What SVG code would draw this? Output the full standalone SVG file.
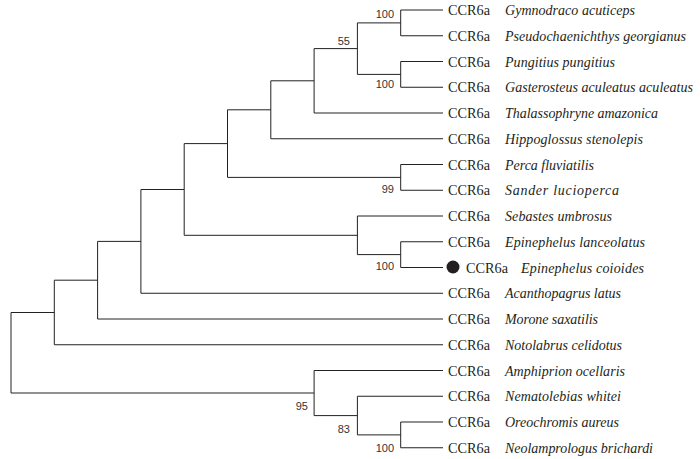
<svg xmlns="http://www.w3.org/2000/svg" width="700" height="459" viewBox="0 0 700 459">
<style>
.br{fill:none;stroke:#222;stroke-width:1}
.g{font-family:'Liberation Serif','Times New Roman',serif;font-size:14px;fill:#231f20}
.sp{font-family:'Liberation Serif','Times New Roman',serif;font-size:14px;font-style:italic;fill:#231f20}
.bs{font-family:'Liberation Sans',Arial,sans-serif;font-size:11px;fill:#333;text-anchor:end}
</style>
<rect width="700" height="459" fill="#fff"/>
<g id="connectors" class="br">
<path d="M54.3 312.5H11V393H314.1"/>
<path d="M97.6 280.2H54.3V344.75H443"/>
<path d="M140.9 241.4H97.6V319H443"/>
<path d="M184.2 189.5H140.9V293.25H443"/>
<path d="M227.5 143.6H184.2V235.3H357.4"/>
<path d="M443 216H357.4V254.6H400.7"/>
<path d="M443 241.75H400.7V267.5H443"/>
<path d="M270.8 109.8H227.5V177.4H400.7"/>
<path d="M443 164.5H400.7V190.25H443"/>
<path d="M314.1 80.8H270.8V138.75H443"/>
<path d="M357.4 48.6H314.1V113H443"/>
<path d="M400.7 22.9H357.4V74.4H400.7"/>
<path d="M443 10H400.7V35.75H443"/>
<path d="M443 61.5H400.7V87.25H443"/>
<path d="M443 370.5H314.1V415.6H357.4"/>
<path d="M443 396.25H357.4V434.9H400.7"/>
<path d="M443 422H400.7V447.75H443"/>
</g>
<g id="bootstrap">
<text class="bs" x="394" y="18">100</text>
<text class="bs" x="350" y="45">55</text>
<text class="bs" x="394" y="88">100</text>
<text class="bs" x="394" y="193">99</text>
<text class="bs" x="394" y="270">100</text>
<text class="bs" x="308" y="410">95</text>
<text class="bs" x="350" y="433">83</text>
<text class="bs" x="394" y="452">100</text>
</g>
<g id="leaf1"><text class="g" x="448" y="15" textLength="42" lengthAdjust="spacingAndGlyphs">CCR6a</text><text class="sp" x="505" y="15" textLength="130" lengthAdjust="spacing">Gymnodraco acuticeps</text></g>
<g id="leaf2"><text class="g" x="448" y="40.75" textLength="42" lengthAdjust="spacingAndGlyphs">CCR6a</text><text class="sp" x="505" y="40.75" textLength="181" lengthAdjust="spacing">Pseudochaenichthys georgianus</text></g>
<g id="leaf3"><text class="g" x="448" y="66.5" textLength="42" lengthAdjust="spacingAndGlyphs">CCR6a</text><text class="sp" x="505" y="66.5" textLength="110" lengthAdjust="spacing">Pungitius pungitius</text></g>
<g id="leaf4"><text class="g" x="448" y="92.25" textLength="42" lengthAdjust="spacingAndGlyphs">CCR6a</text><text class="sp" x="505" y="92.25" textLength="188" lengthAdjust="spacing">Gasterosteus aculeatus aculeatus</text></g>
<g id="leaf5"><text class="g" x="448" y="118" textLength="42" lengthAdjust="spacingAndGlyphs">CCR6a</text><text class="sp" x="505" y="118" textLength="153" lengthAdjust="spacing">Thalassophryne amazonica</text></g>
<g id="leaf6"><text class="g" x="448" y="143.75" textLength="42" lengthAdjust="spacingAndGlyphs">CCR6a</text><text class="sp" x="505" y="143.75" textLength="138" lengthAdjust="spacing">Hippoglossus stenolepis</text></g>
<g id="leaf7"><text class="g" x="448" y="169.5" textLength="42" lengthAdjust="spacingAndGlyphs">CCR6a</text><text class="sp" x="505" y="169.5" textLength="89" lengthAdjust="spacing">Perca fluviatilis</text></g>
<g id="leaf8"><text class="g" x="448" y="195.25" textLength="42" lengthAdjust="spacingAndGlyphs">CCR6a</text><text class="sp" x="505" y="195.25" textLength="114" lengthAdjust="spacing">Sander lucioperca</text></g>
<g id="leaf9"><text class="g" x="448" y="221" textLength="42" lengthAdjust="spacingAndGlyphs">CCR6a</text><text class="sp" x="505" y="221" textLength="107" lengthAdjust="spacing">Sebastes umbrosus</text></g>
<g id="leaf10"><text class="g" x="448" y="246.75" textLength="42" lengthAdjust="spacingAndGlyphs">CCR6a</text><text class="sp" x="505" y="246.75" textLength="140" lengthAdjust="spacing">Epinephelus lanceolatus</text></g>
<g id="leaf11"><circle cx="453" cy="267" r="6.5" fill="#231f20"/><text class="g" x="466" y="272.5" textLength="42" lengthAdjust="spacingAndGlyphs">CCR6a</text><text class="sp" x="521" y="272.5" textLength="123" lengthAdjust="spacing">Epinephelus coioides</text></g>
<g id="leaf12"><text class="g" x="448" y="298.25" textLength="42" lengthAdjust="spacingAndGlyphs">CCR6a</text><text class="sp" x="505" y="298.25" textLength="116" lengthAdjust="spacing">Acanthopagrus latus</text></g>
<g id="leaf13"><text class="g" x="448" y="324" textLength="42" lengthAdjust="spacingAndGlyphs">CCR6a</text><text class="sp" x="505" y="324" textLength="93" lengthAdjust="spacing">Morone saxatilis</text></g>
<g id="leaf14"><text class="g" x="448" y="349.75" textLength="42" lengthAdjust="spacingAndGlyphs">CCR6a</text><text class="sp" x="505" y="349.75" textLength="117" lengthAdjust="spacing">Notolabrus celidotus</text></g>
<g id="leaf15"><text class="g" x="448" y="375.5" textLength="42" lengthAdjust="spacingAndGlyphs">CCR6a</text><text class="sp" x="505" y="375.5" textLength="120" lengthAdjust="spacing">Amphiprion ocellaris</text></g>
<g id="leaf16"><text class="g" x="448" y="401.25" textLength="42" lengthAdjust="spacingAndGlyphs">CCR6a</text><text class="sp" x="505" y="401.25" textLength="116" lengthAdjust="spacing">Nematolebias whitei</text></g>
<g id="leaf17"><text class="g" x="448" y="427" textLength="42" lengthAdjust="spacingAndGlyphs">CCR6a</text><text class="sp" x="505" y="427" textLength="114" lengthAdjust="spacing">Oreochromis aureus</text></g>
<g id="leaf18"><text class="g" x="448" y="452.75" textLength="42" lengthAdjust="spacingAndGlyphs">CCR6a</text><text class="sp" x="505" y="452.75" textLength="148" lengthAdjust="spacing">Neolamprologus brichardi</text></g>
</svg>
